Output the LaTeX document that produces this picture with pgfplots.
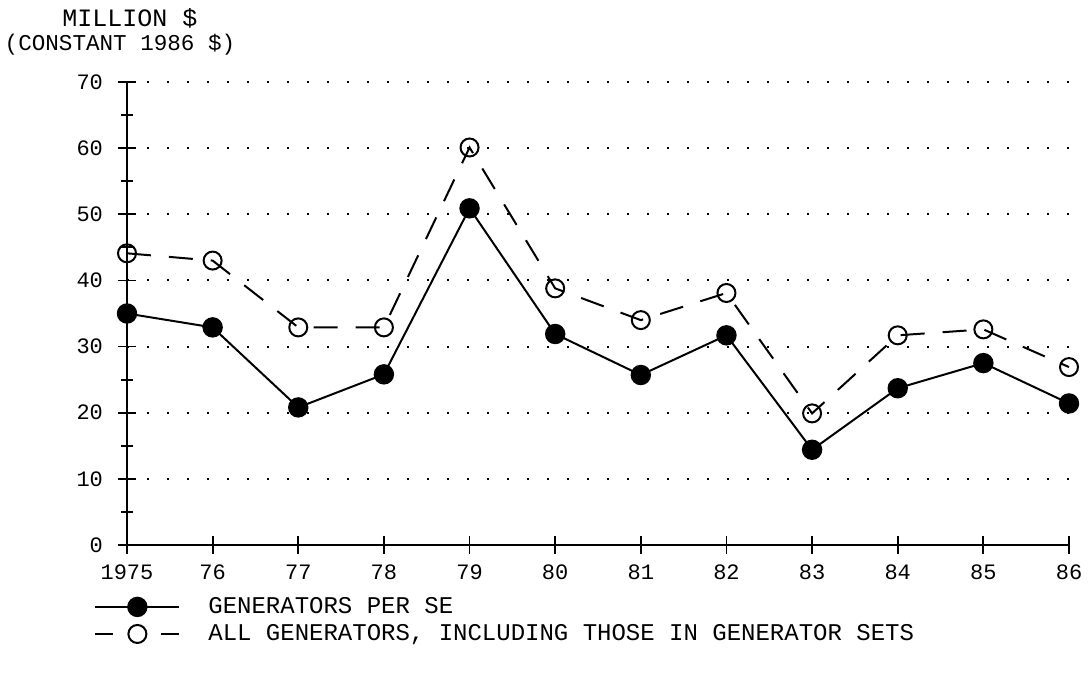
\documentclass[border=0pt]{standalone}
\usepackage{pgfplots}
\pgfplotsset{compat=1.18}
\usepackage{fontspec}
\setmainfont{Liberation Mono}
\pgfplotsset{
  longlegend/.style={
    legend image code/.code={
      \draw[mark repeat=2,mark phase=2,##1] plot coordinates {(0pt,0pt) (21pt,0pt) (42pt,0pt)};
    }
  },
  dashlegend/.style={
    legend image code/.code={
      \draw[##1, dash pattern=on 9pt off 24pt on 9pt, mark=none] (0pt,0pt) -- (42pt,0pt);
      \draw[mark repeat=2,mark phase=2,##1, draw=none] plot coordinates {(0pt,0pt) (21pt,0pt) (42pt,0pt)};
    }
  }
}
\begin{document}
\begin{tikzpicture}
\path[use as bounding box] (-63.5pt,-67pt) rectangle (480.5pt,272.5pt);
\begin{axis}[
  at={(0,0)}, anchor=south west,
  scale only axis, width=471pt, height=231.5pt,
  xmin=0, xmax=11, ymin=0, ymax=70,
  axis x line=bottom, axis y line=left,
  axis line style={-, line width=1pt},
  xtick={0,...,11},
  xticklabels={1975,76,77,78,79,80,81,82,83,84,85,86},
  ytick={0,10,...,70},
  minor y tick num=1,
  tick align=center,
  major tick length=9pt, minor tick length=6pt,
  tick style={line width=0.9pt, black},
  ymajorgrids,
  major grid style={line width=1pt, dash pattern=on 1pt off 9pt, black},
  /pgf/number format/assume math mode=true,
  tick label style={font=\fontsize{11}{13}\selectfont},
  xticklabel style={yshift=-2pt},
  yticklabel style={xshift=-4pt},
  clip=false,
  legend style={draw=none, fill=none, at={(0,0)}, anchor=north west,
    xshift=-19.5pt, yshift=-22pt, font=\fontsize{12}{13}\selectfont,
    row sep=0pt, cells={anchor=west},
    /tikz/every odd column/.append style={column sep=12pt}},
]
\addplot[black, line width=1pt, mark=*, mark size=4.6pt, mark options={solid}, longlegend]
  coordinates {(0,35) (1,32.9) (2,20.8) (3,25.8) (4,50.9) (5,31.9) (6,25.7) (7,31.7) (8,14.4) (9,23.7) (10,27.5) (11,21.4)};
\addlegendentry{GENERATORS PER SE}
\addplot[black, line width=1pt, dash pattern=on 12pt off 9pt, mark=o, mark size=4.5pt, mark options={solid, fill=white}, dashlegend]
  coordinates {(0,44.1) (1,43) (2,32.9) (3,32.9) (4,60.1) (5,38.8) (6,34) (7,38.1) (8,19.9) (9,31.7) (10,32.6) (11,26.9)};
\addlegendentry{ALL GENERATORS, INCLUDING THOSE IN GENERATOR SETS}
\end{axis}
\node[font=\fontsize{12.5}{14}\selectfont] at (1.5pt,263.5pt) {MILLION \$};
\node[font=\fontsize{11.3}{13}\selectfont] at (-3.5pt,250pt) {(CONSTANT 1986 \$)};
\end{tikzpicture}
\end{document}
